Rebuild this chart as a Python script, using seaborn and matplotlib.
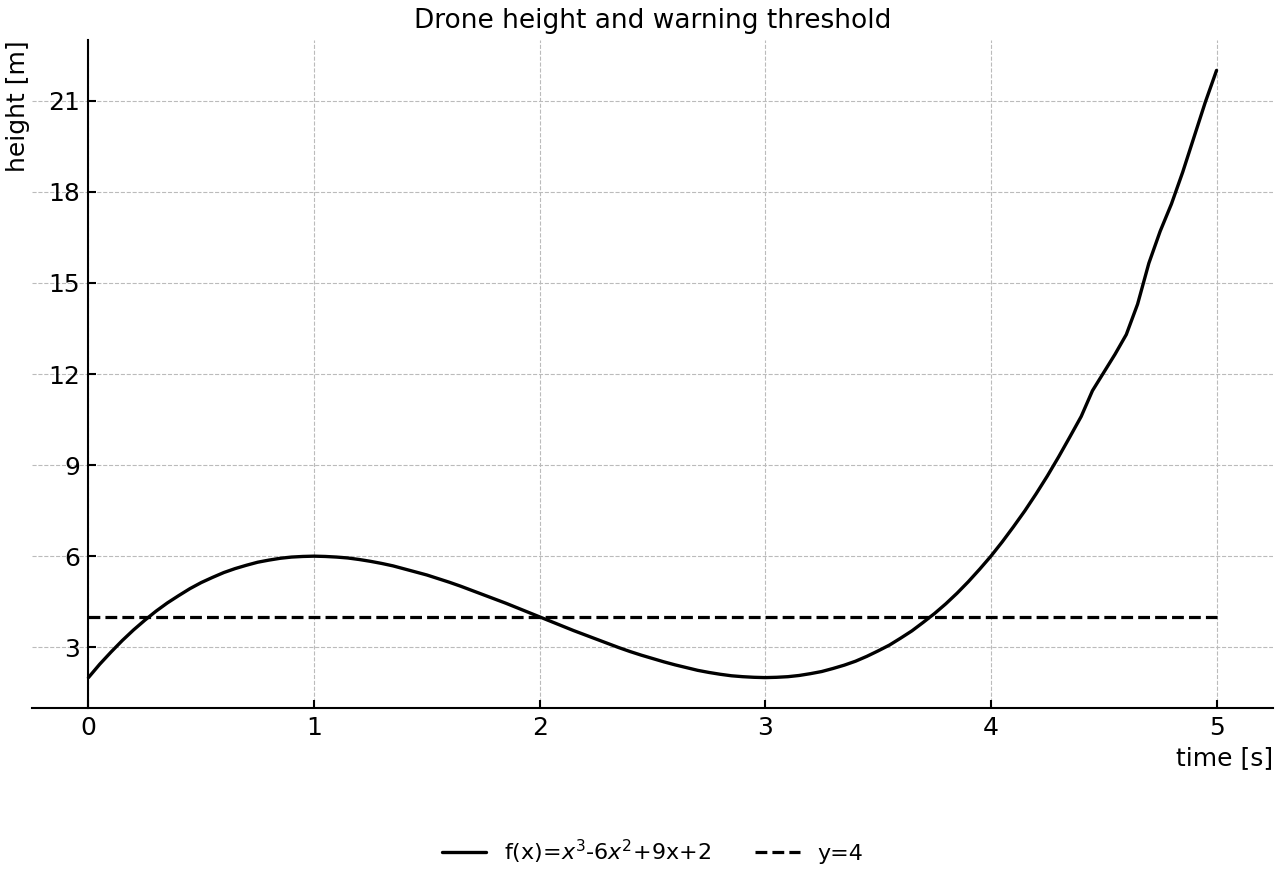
import pandas as pd
import seaborn as sns
import matplotlib.pyplot as plt

# 시간 [s]
time_s = [0.0, 0.05, 0.1, 0.15, 0.2, 0.25, 0.3, 0.35, 0.4, 0.45,
          0.5, 0.55, 0.6, 0.65, 0.7, 0.75, 0.8, 0.85, 0.9, 0.95,
          1.0, 1.05, 1.1, 1.15, 1.2, 1.25, 1.3, 1.35, 1.4, 1.45,
          1.5, 1.55, 1.6, 1.65, 1.7, 1.75, 1.8, 1.85, 1.9, 1.95,
          2.0, 2.05, 2.1, 2.15, 2.2, 2.25, 2.3, 2.35, 2.4, 2.45,
          2.5, 2.55, 2.6, 2.65, 2.7, 2.75, 2.8, 2.85, 2.9, 2.95,
          3.0, 3.05, 3.1, 3.15, 3.2, 3.25, 3.3, 3.35, 3.4, 3.45,
          3.5, 3.55, 3.6, 3.65, 3.7, 3.75, 3.8, 3.85, 3.9, 3.95,
          4.0, 4.05, 4.1, 4.15, 4.2, 4.25, 4.3, 4.35, 4.4, 4.45,
          4.5, 4.55, 4.6, 4.65, 4.7, 4.75, 4.8, 4.85, 4.9, 4.95,
          5.0]
# 높이 [m]
height_m = [2.00, 2.44, 2.84, 3.22, 3.57, 3.89, 4.19, 4.46, 4.70, 4.93,
            5.13, 5.30, 5.46, 5.59, 5.70, 5.80, 5.87, 5.93, 5.97, 5.99,
            6.00, 5.99, 5.97, 5.94, 5.89, 5.83, 5.76, 5.68, 5.58, 5.48,
            5.38, 5.26, 5.14, 5.01, 4.87, 4.73, 4.59, 4.45, 4.30, 4.15,
            4.00, 3.85, 3.70, 3.55, 3.41, 3.27, 3.13, 2.99, 2.86, 2.74,
            2.63, 2.52, 2.42, 2.33, 2.24, 2.17, 2.11, 2.06, 2.03, 2.01,
            2.00, 2.01, 2.03, 2.07, 2.13, 2.20, 2.30, 2.41, 2.54, 2.70,
            2.88, 3.07, 3.30, 3.54, 3.82, 4.11, 4.43, 4.78, 5.16, 5.57,
            6.00, 6.47, 6.97, 7.49, 8.05, 8.64, 9.27, 9.93, 10.60, 11.45,
            12.05, 12.65, 13.30, 14.30, 15.65, 16.70, 17.60, 18.65, 19.80, 20.95,
            22.00]
# 경고 기준선
thr_x = [0, 5]
thr_y = [4, 4]

df = pd.DataFrame({'time': time_s, 'height': height_m})
df_thr = pd.DataFrame({'time': thr_x, 'height': thr_y})

sns.set_style('ticks')
plt.rcParams['font.family'] = ['DejaVu Sans']
plt.rcParams['text.color'] = 'black'
plt.rcParams['axes.labelcolor'] = 'black'
plt.rcParams['xtick.color'] = 'black'
plt.rcParams['ytick.color'] = 'black'
plt.rcParams['axes.edgecolor'] = 'black'

fig, ax = plt.subplots(figsize=(12.8, 8.8), dpi=100)
fig.subplots_adjust(left=0.025, right=0.9945, top=0.9545, bottom=0.1955)

sns.lineplot(data=df, x='time', y='height', color='black', linewidth=2.4,
             label=r'f(x)=$x^3$-6$x^2$+9x+2', ax=ax)
sns.lineplot(data=df_thr, x='time', y='height', color='black', linewidth=2.3,
             linestyle='--', label='y=4', ax=ax)

ax.set_xticks([0, 1, 2, 3, 4, 5])
ax.set_yticks([3, 6, 9, 12, 15, 18, 21])
ax.grid(True, linestyle='--', color='#bbbbbb', linewidth=0.8)
ax.spines['left'].set_position(('data', 0))
ax.spines['top'].set_visible(False)
ax.spines['right'].set_visible(False)
ax.spines['left'].set_linewidth(1.5)
ax.spines['bottom'].set_linewidth(1.5)
ax.tick_params(direction='in', length=6, width=1.5, labelsize=18, pad=6)

ax.set_title('Drone height and warning threshold', fontsize=19, pad=9)
ax.set_xlabel('time [s]', fontsize=18, loc='right')
ax.set_ylabel('height [m]', fontsize=18, loc='top', labelpad=13)

ax.legend(loc='center', bbox_to_anchor=(0.5, -0.215), ncol=2,
          frameon=False, fontsize=16)

plt.savefig('out.png')
